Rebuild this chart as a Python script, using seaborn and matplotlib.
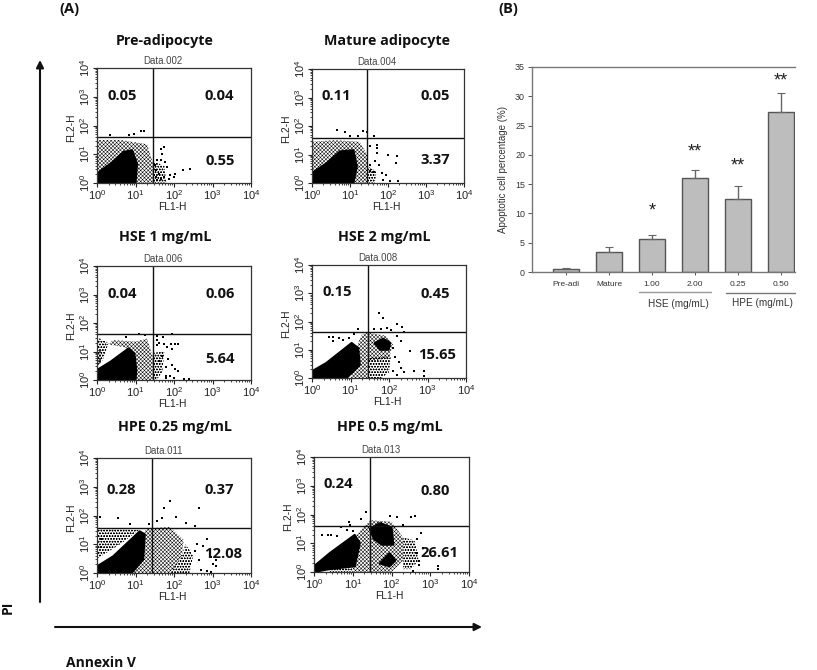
import matplotlib

matplotlib.use("Agg")
import matplotlib.pyplot as plt
import numpy as np
import seaborn as sns
from matplotlib.ticker import FixedLocator, NullFormatter

W, H = 817, 670

# bar chart (B)
bar_labels = ["Pre-adi", "Mature", "1.00", "2.00", "0.25", "0.50"]
bar_values = [0.55, 3.37, 5.64, 16.1, 12.4, 27.4]
bar_errors = [0.1, 0.95, 0.7, 1.4, 2.2, 3.2]
star_labels = ["*", "**", "**", "**"]
star_bars = [2, 3, 4, 5]
star_values = [10.4, 20.5, 18.1, 32.6]

# flow panels (A): every coordinate below is in decades
panel_titles = ["Pre-adipocyte", "Mature adipocyte", "HSE 1 mg/mL", "HSE 2 mg/mL",
                "HPE 0.25 mg/mL", "HPE 0.5 mg/mL"]
panel_names = ["Data.002", "Data.004", "Data.006", "Data.008", "Data.011", "Data.013"]
ul_values = ["0.05", "0.11", "0.04", "0.15", "0.28", "0.24"]
ur_values = ["0.04", "0.05", "0.06", "0.45", "0.37", "0.80"]
lr_values = ["0.55", "3.37", "5.64", "15.65", "12.08", "26.61"]
gate_x = [1.45, 1.44, 1.45, 1.46, 1.44, 1.45]
gate_y = [1.6, 1.57, 1.63, 1.62, 1.57, 1.6]

pre_black = [[(0, 0), (0, .33), (.35, .67), (.69, 1.08), (.91, 1.14), (1.04, .67), (1.0, 0)]]
pre_dense = [[(0, 0), (0, 1.5), (.6, 1.5), (1.3, 1.35), (1.45, .7), (1.45, 0)]]
pre_sparse = [[(1.45, 0), (1.45, .75), (1.75, .6), (1.8, 0)]]
pre_dots = [(.35, 1.66), (.82, 1.66), (1.13, 1.81), (1.23, 1.81), (.95, 1.7), (1.56, .79), (1.65, .79),
            (1.69, 1.0), (1.75, 1.26), (1.65, 1.2), (1.77, .73), (1.9, .27), (2.03, .33), (2.23, .44),
            (2.42, .47), (1.52, .44), (1.6, .33), (1.73, .21), (1.86, .15), (1.65, .15), (1.52, .21),
            (1.82, .56), (1.5, .62), (1.99, .21), (1.56, .09)]

mature_black = [[(0, 0), (0, .35), (.39, .7), (.74, 1.11), (1.09, 1.15), (1.18, .58), (1.09, 0)]]
mature_dense = [[(0, 0), (0, 1.45), (.6, 1.5), (1.25, 1.45), (1.45, 1.0), (1.45, 0)]]
mature_sparse = [[(1.45, 0), (1.45, .6), (1.7, .4), (1.65, 0)]]
mature_dots = [(.66, 1.85), (.87, 1.78), (1.34, 1.81), (1.46, 1.78), (1.64, 1.66), (1.22, 1.66), (.99, 1.66),
               (1.7, 1.35), (1.7, 1.23), (1.53, 1.29), (1.7, 1.05), (2.01, .99), (2.24, .96), (2.21, .7),
               (1.66, .76), (1.75, .64), (1.53, .41), (1.62, .37), (1.83, .35), (1.96, .29), (2.27, .06),
               (2.05, .06), (1.53, .64), (1.88, .12)]

hse1_black = [[(0, 0), (0, .35), (.35, .64), (.82, 1.11), (.97, .94), (1.02, .35), (1.0, 0)]]
hse1_dense = [[(.3, 1.25), (.4, 1.4), (1.0, 1.35), (1.3, 1.45), (1.45, .8), (1.45, 0), (.9, 0), (1.0, 1.0), (.7, 1.15)],
              [(0, 1.05), (.12, 1.05), (.1, .6), (0, .5)]]
hse1_sparse = [[(1.45, 0), (1.45, .95), (1.75, 1.0), (1.7, .3), (1.55, 0)], [(0, .5), (0, 1.5), (.3, 1.3), (.15, .7)]]
hse1_dots = [(.75, 1.52), (1.1, 1.6), (1.25, 1.58), (1.55, 1.55), (1.72, 1.5), (1.95, 1.62), (1.55, 1.22),
             (1.75, 1.25), (1.82, 1.15), (1.62, 1.3), (1.92, 1.28), (2.02, 1.28), (2.1, 1.28), (1.95, 1.1),
             (1.7, .85), (1.85, .72), (1.95, .52), (2.02, .4), (2.1, .32), (1.78, .45), (1.8, .15),
             (1.9, .14), (1.78, .08), (2.25, .05), (2.4, .05), (2.0, .08), (1.55, 1.42), (1.62, .65)]

hse2_black = [[(0, 0), (0, .24), (.37, .53), (1.03, 1.24), (1.2, 1.06), (1.24, .47), (.9, 0)],
              [(1.63, 1.24), (1.85, 1.39), (2.03, 1.24), (1.99, 1.0), (1.77, 1.0)]]
hse2_dense = [[(1.0, 0), (1.2, 1.25), (1.3, 1.55), (1.46, 1.6), (1.46, 0)], [(1.46, 1.6), (1.9, 1.5), (2.1, 1.2), (2.0, .7), (1.46, .6)]]
hse2_sparse = [[(1.46, 0), (1.46, .7), (2.05, .8), (2.0, .2), (1.8, 0)]]
hse2_dots = [(1.75, 2.3), (1.85, 2.12), (1.62, 1.72), (1.8, 1.75), (1.95, 1.78), (2.05, 1.7), (2.2, 1.9),
             (2.35, 1.8), (2.4, 1.62), (2.2, 1.5), (2.3, 1.3), (2.55, .95), (2.1, 1.05), (2.15, .75),
             (2.25, .55), (2.3, .35), (2.4, .2), (2.65, .25), (2.9, .25), (2.9, .08), (2.2, .1), (2.1, .25),
             (.45, 1.45), (.55, 1.3), (.7, 1.4), (.8, 1.35), (.95, 1.42), (1.1, 1.55), (1.2, 1.72), (.55, 1.45)]

hpe025_black = [[(0, 0), (0, .23), (.42, .58), (1.11, 1.45), (1.24, 1.34), (1.2, .47), (.9, 0)]]
hpe025_dense = [[(.9, 0), (1.2, 1.4), (1.3, 1.55), (1.9, 1.6), (2.25, 1.15), (2.2, .55), (1.9, 0)]]
hpe025_sparse = [[(0, .5), (0, 1.55), (1.1, 1.5), (.6, 1.0)], [(1.9, 0), (2.2, .6), (2.3, 1.0), (2.5, .6), (2.4, 0)]]
hpe025_dots = [(.08, 1.95), (.55, 1.9), (.85, 1.72), (1.35, 1.72), (1.55, 1.8), (1.7, 1.9), (1.75, 2.25),
               (1.9, 2.5), (2.65, 2.25), (2.05, 1.95), (2.3, 1.75), (2.55, 1.62), (2.6, 1.0), (2.75, .95),
               (2.85, 1.2), (2.55, .75), (2.65, .45), (2.95, .55), (3.1, .45), (3.0, .3), (3.1, .25),
               (2.7, .12), (2.85, .06), (2.95, .05), (.1, .9), (.1, 1.2)]

hpe05_black = [[(0, 0), (0, .2), (.41, .66), (1.05, 1.29), (1.18, 1.0), (1.05, .2), (.4, .1)],
               [(1.44, 1.5), (1.7, 1.7), (2.0, 1.55), (2.05, .95), (1.75, .95), (1.55, 1.15)],
               [(1.7, .3), (1.95, .65), (2.1, .4), (1.95, .2)]]
hpe05_dense = [[(1.0, 0), (1.05, 1.2), (1.3, 1.6), (1.45, 1.8), (2.0, 1.75), (2.3, 1.2), (2.3, .4), (2.0, 0)]]
hpe05_sparse = [[(.4, 0), (.4, .1), (1.0, .3), (1.0, 0)], [(2.3, .1), (2.3, 1.2), (2.6, 1.1), (2.7, .4), (2.5, .1)]]
hpe05_dots = [(1.35, 2.1), (.9, 1.75), (.92, 1.65), (1.2, 1.85), (1.95, 1.95), (2.15, 1.9), (2.5, 1.9),
              (2.6, 1.95), (2.3, 1.65), (2.75, 1.35), (2.65, 1.15), (2.8, .85), (2.65, .65), (2.7, .25),
              (2.7, .4), (3.2, .12), (3.2, .2), (.35, 1.3), (.45, 1.3), (.6, 1.25), (.7, 1.55), (.85, 1.45),
              (1.0, 1.42), (2.55, .05), (.2, 1.3)]

black_regions = [pre_black, mature_black, hse1_black, hse2_black, hpe025_black, hpe05_black]
dense_regions = [pre_dense, mature_dense, hse1_dense, hse2_dense, hpe025_dense, hpe05_dense]
sparse_regions = [pre_sparse, mature_sparse, hse1_sparse, hse2_sparse, hpe025_sparse, hpe05_sparse]
stray_dots = [pre_dots, mature_dots, hse1_dots, hse2_dots, hpe025_dots, hpe05_dots]

# pixel boxes left, top, right, bottom
panel_boxes = [(97, 68, 251, 183), (312, 69, 464, 183), (97, 266, 251, 380),
               (312, 265, 466, 378), (97, 458, 251, 573), (314, 457, 469, 572)]
title_centers = [(165, 41), (387, 41), (165, 237), (384, 237), (175, 427), (390, 427)]
ul_pos = [(.162, .758), (.16, .766), (.162, .754), (.167, .765), (.158, .719), (.158, .761)]
ur_pos = [(.797, .758), (.808, .766), (.797, .754), (.80, .744), (.792, .719), (.782, .706)]
lr_pos = [(.797, .19), (.808, .2), (.797, .187), (.81, .206), (.822, .168), (.81, .164)]

sns.set_style("ticks")
plt.rcParams["font.family"] = ["Liberation Sans", "DejaVu Sans"]
plt.rcParams["mathtext.default"] = "regular"
plt.rcParams["hatch.linewidth"] = 0.35

TITLE_FONT = ["Open Sans", "DejaVu Sans"]
fig = plt.figure(figsize=(W / 100, H / 100), dpi=100, facecolor="white")


def pixel_axes(left, top, right, bottom):
    return fig.add_axes([left / W, 1 - bottom / H, (right - left) / W, (bottom - top) / H])


def fig_text(x, y, s, **kwargs):
    fig.text(x / W, 1 - y / H, s, ha="center", va="center", **kwargs)


def fill_regions(ax, regions, **kwargs):
    for region in regions:
        xs, ys = zip(*region)
        ax.fill(10 ** np.array(xs), 10 ** np.array(ys), **kwargs)


def draw_panel(i):
    ax = pixel_axes(*panel_boxes[i])
    ax.set_xscale("log")
    ax.set_yscale("log")
    fill_regions(ax, sparse_regions[i], facecolor="none", edgecolor="black", hatch="oooooo", linewidth=0)
    fill_regions(ax, dense_regions[i], facecolor="none", edgecolor="black", hatch="xxxxxxxxx", linewidth=0)
    fill_regions(ax, black_regions[i], facecolor="black", edgecolor="black", linewidth=1.5, joinstyle="round")
    xs, ys = zip(*stray_dots[i])
    sns.scatterplot(x=10 ** np.array(xs), y=10 ** np.array(ys), s=1.6, color="black", marker="s",
                    linewidth=0, ax=ax)
    ax.axvline(10 ** gate_x[i], color="#111111", lw=1)
    ax.axhline(10 ** gate_y[i], color="#111111", lw=1)
    ax.set_xlim(1, 1e4)
    ax.set_ylim(1, 1e4)

    majors = [1, 10, 100, 1000, 10000]
    labels = [f"$10^{{{n}}}$" for n in range(5)]
    minors = [m * d for d in majors[:-1] for m in range(2, 10)]
    for axis in (ax.xaxis, ax.yaxis):
        axis.set_major_locator(FixedLocator(majors))
        axis.set_minor_locator(FixedLocator(minors))
        axis.set_minor_formatter(NullFormatter())
    ax.set_xticklabels(labels)
    ax.set_yticklabels(labels, rotation=90, va="center")
    ax.tick_params(which="major", length=3, width=0.8, labelsize=8, pad=0.5, colors="#222222")
    ax.tick_params(which="minor", length=1.5, width=0.6, colors="#222222")
    for spine in ax.spines.values():
        spine.set_linewidth(0.9)
        spine.set_color("#333333")

    ax.set_xlabel("FL1-H", fontsize=7.4, color="#222222")
    ax.xaxis.set_label_coords(.487, -.165)
    ax.set_ylabel("FL2-H", fontsize=7.4, color="#222222")
    ax.yaxis.set_label_coords(-.135, .48)
    ax.text(.43, 1.06, panel_names[i], transform=ax.transAxes, ha="center", va="center",
            fontsize=6.9, color="#444444")

    for value, pos in zip((ul_values[i], ur_values[i], lr_values[i]), (ul_pos[i], ur_pos[i], lr_pos[i])):
        ax.text(*pos, value, transform=ax.transAxes, ha="center", va="center", fontsize=10.6,
                fontweight="bold", family=TITLE_FONT, color="#111111")
    fig_text(*title_centers[i], panel_titles[i], fontsize=10.3, fontweight="bold", family=TITLE_FONT,
             color="#111111")


for i in range(6):
    draw_panel(i)

# bar chart
ax_bar = pixel_axes(532, 67, 795, 272)
sns.barplot(x=bar_labels, y=bar_values, color="#bdbdbd", saturation=1, width=0.6, errorbar=None,
            edgecolor="#555555", linewidth=1, ax=ax_bar)
ax_bar.errorbar(np.arange(len(bar_values)), bar_values, yerr=[np.zeros(len(bar_errors)), bar_errors],
                fmt="none", ecolor="#666666", elinewidth=1, capsize=3, capthick=0.8)
ax_bar.set_xlim(-0.8, 5.33)
ax_bar.set_ylim(0, 35)
ax_bar.set_yticks(range(0, 36, 5))
ax_bar.tick_params(axis="x", length=2.5, width=0.7, labelsize=6, pad=4, color="#555555", labelcolor="#333333")
ax_bar.tick_params(axis="y", length=3, width=0.7, labelsize=6.4, pad=2, color="#555555", labelcolor="#333333")
ax_bar.set_ylabel("Apoptotic cell percentage (%)", fontsize=7, color="#333333", labelpad=5)
ax_bar.spines["right"].set_visible(False)
for side in ("top", "left", "bottom"):
    ax_bar.spines[side].set_color("#777777")
    ax_bar.spines[side].set_linewidth(1)
for pos, label, value in zip(star_bars, star_labels, star_values):
    ax_bar.text(pos, value, label, ha="center", va="center", fontsize=13, color="#222222")

fig_text(678, 304, "HSE (mg/mL)", fontsize=7.2, color="#333333")
fig_text(762, 303, "HPE (mg/mL)", fontsize=7.2, color="#333333")
overlay = fig.add_axes([0, 0, 1, 1], facecolor="none")
overlay.set_xlim(0, W)
overlay.set_ylim(H, 0)
overlay.axis("off")
overlay.plot([639, 711], [292, 292], color="#999999", lw=1)
overlay.plot([726, 795], [293, 293], color="#777777", lw=1)
overlay.annotate("", xy=(40, 60), xytext=(40, 602),
                 arrowprops=dict(arrowstyle="-|>", color="#111111", lw=1.5, mutation_scale=11, shrinkA=0, shrinkB=0))
overlay.annotate("", xy=(482, 627), xytext=(55, 627),
                 arrowprops=dict(arrowstyle="-|>", color="#111111", lw=1.5, mutation_scale=11, shrinkA=0, shrinkB=0))

fig_text(69, 9, "(A)", fontsize=10.5, fontweight="bold", family=TITLE_FONT, color="#111111")
fig_text(508, 9, "(B)", fontsize=10.5, fontweight="bold", family=TITLE_FONT, color="#111111")
fig_text(8, 607, "PI", fontsize=10, fontweight="bold", rotation=90, family=TITLE_FONT, color="#111111")
fig_text(101, 663, "Annexin V", fontsize=10, fontweight="bold", family=TITLE_FONT, color="#111111")

fig.savefig("out.png", dpi=100)
